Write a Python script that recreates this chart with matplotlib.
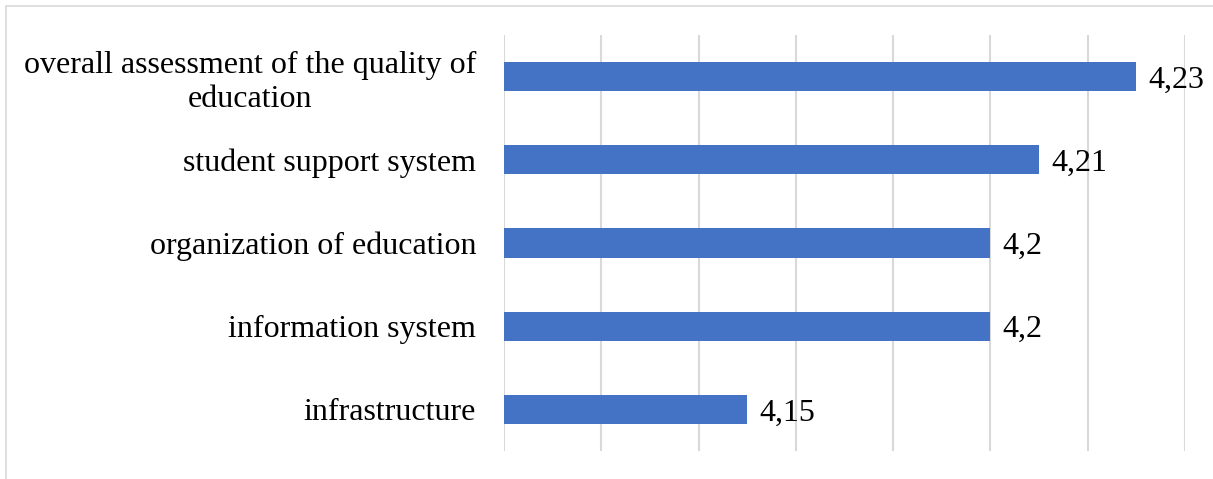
import matplotlib.pyplot as plt
from matplotlib.patches import Rectangle

plt.rcParams['font.family'] = ['Liberation Serif', 'DejaVu Serif']

categories = ['infrastructure', 'information system', 'organization of education',
              'student support system', 'overall assessment of the quality of\neducation']
values = [4.15, 4.2, 4.2, 4.21, 4.23]
value_labels = ['4,15', '4,2', '4,2', '4,21', '4,23']

fig = plt.figure(figsize=(12.13, 4.79), dpi=100)
ax = fig.add_axes([504 / 1213, 1 - 451 / 479, (1185 - 504) / 1213, (451 - 35) / 479])

# bars start at the axis minimum
base = 4.10
ax.barh(range(len(categories)), [v - base for v in values], left=base,
        height=0.35, color='#4472C4', zorder=3)

for i, (v, lab) in enumerate(zip(values, value_labels)):
    ax.text(v + 0.0025, i, lab, va='center_baseline', ha='left', fontsize=23, color='black')

ax.set_xlim(4.10, 4.24)
ax.set_ylim(-0.5, len(categories) - 0.5)
ax.set_xticks([4.10 + 0.02 * k for k in range(8)])
ax.set_xticklabels([])
ax.set_yticks(range(len(categories)))
ax.set_yticklabels(categories, fontsize=23, linespacing=1.2)
for t in ax.get_yticklabels():
    t.set_multialignment('center')
ax.tick_params(axis='both', length=0, pad=20)
ax.grid(axis='x', color='#D9D9D9', linewidth=1.5, zorder=0)
for s in ax.spines.values():
    s.set_visible(False)

# outer chart frame
fig.patches.append(Rectangle((6 / 1213, -0.1), 1.2, 1 - 6 / 479 + 0.1,
                             transform=fig.transFigure, fill=False,
                             edgecolor='#D9D9D9', linewidth=1.2))

plt.savefig('out.png', dpi=100)
